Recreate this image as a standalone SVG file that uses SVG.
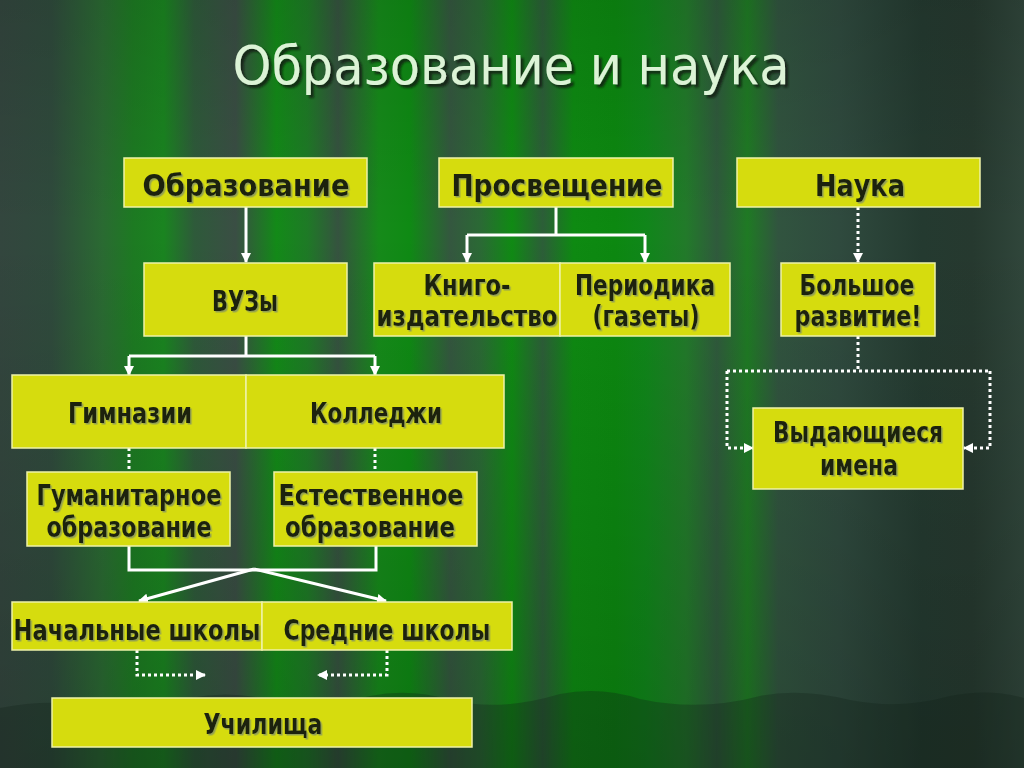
<svg xmlns="http://www.w3.org/2000/svg" width="1024" height="768" viewBox="0 0 1024 768">
<defs>
<linearGradient id="bg" x1="0" y1="0" x2="1024" y2="0" gradientUnits="userSpaceOnUse">
<stop offset="0" stop-color="#33463e"/>
<stop offset="0.05" stop-color="#2f4a3c"/>
<stop offset="0.1" stop-color="#2a6a32"/>
<stop offset="0.13" stop-color="#1d7a22"/>
<stop offset="0.16" stop-color="#1a8420"/>
<stop offset="0.19" stop-color="#2e5a3a"/>
<stop offset="0.23" stop-color="#3a4e44"/>
<stop offset="0.27" stop-color="#138a18"/>
<stop offset="0.30" stop-color="#1e7a26"/>
<stop offset="0.33" stop-color="#35533f"/>
<stop offset="0.37" stop-color="#168a1a"/>
<stop offset="0.40" stop-color="#0f8a14"/>
<stop offset="0.44" stop-color="#34573f"/>
<stop offset="0.47" stop-color="#2a6a34"/>
<stop offset="0.50" stop-color="#108a14"/>
<stop offset="0.53" stop-color="#2c5e38"/>
<stop offset="0.56" stop-color="#0e8a12"/>
<stop offset="0.60" stop-color="#0c8810"/>
<stop offset="0.63" stop-color="#10861a"/>
<stop offset="0.67" stop-color="#227a2a"/>
<stop offset="0.70" stop-color="#2f5a3c"/>
<stop offset="0.73" stop-color="#1f7a24"/>
<stop offset="0.76" stop-color="#31543f"/>
<stop offset="0.82" stop-color="#2f4a3e"/>
<stop offset="0.9" stop-color="#243a30"/>
<stop offset="0.95" stop-color="#26392f"/>
<stop offset="1" stop-color="#30463b"/>
</linearGradient>
<linearGradient id="shade" x1="0" y1="0" x2="0" y2="1">
<stop offset="0" stop-color="#000" stop-opacity="0.1"/>
<stop offset="0.3" stop-color="#000" stop-opacity="0"/>
<stop offset="1" stop-color="#000" stop-opacity="0.15"/>
</linearGradient>
<filter id="ts" x="-10%" y="-20%" width="120%" height="140%">
<feDropShadow dx="1.5" dy="1.5" stdDeviation="0.4" flood-color="#8c9a5a" flood-opacity="0.9"/>
</filter>
<filter id="tts" x="-10%" y="-20%" width="120%" height="140%">
<feDropShadow dx="3" dy="3" stdDeviation="1" flood-color="#0a1a0a" flood-opacity="0.8"/>
</filter>
<marker id="ah" markerUnits="userSpaceOnUse" markerWidth="10" markerHeight="10" refX="9" refY="5" orient="auto" viewBox="0 0 10 10">
<path d="M0,0 L10,5 L0,10 z" fill="#ffffff"/>
</marker>
<style>
.box{fill:#d6dc0e;stroke:#eef2a8;stroke-width:1.5}
.t{font-family:"DejaVu Sans Condensed","DejaVu Sans",sans-serif;font-weight:bold;fill:#1c2410;text-anchor:middle;filter:url(#ts)}
.h{font-size:31px}
.n{font-size:28px}
.ln{fill:none;stroke:#ffffff;stroke-width:3}
.dt{fill:none;stroke:#ffffff;stroke-width:3;stroke-dasharray:3 3}
</style>
</defs>
<rect x="0" y="0" width="1024" height="768" fill="url(#bg)"/>
<rect x="0" y="0" width="1024" height="768" fill="url(#shade)"/>
<path d="M0,708 Q40,700 80,704 Q140,712 190,698 Q230,690 270,700 Q320,710 370,696 Q410,688 450,700 Q500,712 560,694 Q600,686 640,699 Q700,712 760,696 Q800,688 850,700 Q900,710 950,696 Q990,688 1024,698 L1024,768 L0,768 Z" fill="#102018" fill-opacity="0.3"/>

<text x="511" y="84" font-family="'DejaVu Sans',sans-serif" font-size="54" fill="#dcf3d6" text-anchor="middle" textLength="557" lengthAdjust="spacingAndGlyphs" filter="url(#tts)">Образование и наука</text>

<g id="connectors">
<path class="ln" d="M246,207 V262" marker-end="url(#ah)"/>
<path class="ln" d="M556,207 V235 M467,235 H645"/>
<path class="ln" d="M467,235 V262" marker-end="url(#ah)"/>
<path class="ln" d="M645,235 V262" marker-end="url(#ah)"/>
<path class="dt" d="M858,207 V262" marker-end="url(#ah)"/>
<path class="ln" d="M246,336 V356 M129,356 H375"/>
<path class="ln" d="M129,356 V375" marker-end="url(#ah)"/>
<path class="ln" d="M375,356 V375" marker-end="url(#ah)"/>
<path class="dt" d="M129,448 V472"/>
<path class="dt" d="M375,448 V472"/>
<path class="ln" d="M129,546 V570 H376 V546"/>
<path class="ln" d="M254,569 L139,601" marker-end="url(#ah)"/>
<path class="ln" d="M254,569 L386,601" marker-end="url(#ah)"/>
<path class="dt" d="M137,650 V675 H205" marker-end="url(#ah)"/>
<path class="dt" d="M387,650 V675 H318" marker-end="url(#ah)"/>
<path class="dt" d="M858,336 V371 M727,371 H990"/>
<path class="dt" d="M727,371 V448 H753" marker-end="url(#ah)"/>
<path class="dt" d="M990,371 V448 H964" marker-end="url(#ah)"/>
</g>

<g id="obrazovanie"><rect class="box" x="124" y="158" width="243" height="49"/><text class="t h" x="246" y="196" textLength="207" lengthAdjust="spacingAndGlyphs">Образование</text></g>
<g id="prosveshchenie"><rect class="box" x="439" y="158" width="234" height="49"/><text class="t h" x="557" y="196" textLength="211" lengthAdjust="spacingAndGlyphs">Просвещение</text></g>
<g id="nauka"><rect class="box" x="737" y="158" width="243" height="49"/><text class="t h" x="860" y="196" textLength="90" lengthAdjust="spacingAndGlyphs">Наука</text></g>

<g id="vuzy"><rect class="box" x="144" y="263" width="203" height="73"/><text class="t n" x="245" y="311" textLength="66" lengthAdjust="spacingAndGlyphs">ВУЗы</text></g>
<g id="knigoizdatelstvo"><rect class="box" x="374" y="263" width="186" height="73"/><text class="t n" x="467" y="295" textLength="87" lengthAdjust="spacingAndGlyphs">Книго-</text><text class="t n" x="467" y="326" textLength="181" lengthAdjust="spacingAndGlyphs">издательство</text></g>
<g id="periodika"><rect class="box" x="560" y="263" width="170" height="73"/><text class="t n" x="645" y="295" textLength="140" lengthAdjust="spacingAndGlyphs">Периодика</text><text class="t n" x="646" y="326" textLength="107" lengthAdjust="spacingAndGlyphs">(газеты)</text></g>
<g id="bolshoe"><rect class="box" x="781" y="263" width="154" height="73"/><text class="t n" x="857" y="295" textLength="115" lengthAdjust="spacingAndGlyphs">Большое</text><text class="t n" x="858" y="326" textLength="127" lengthAdjust="spacingAndGlyphs">развитие!</text></g>

<g id="gimnazii"><rect class="box" x="12" y="375" width="234" height="73"/><text class="t n" x="130" y="423" textLength="124" lengthAdjust="spacingAndGlyphs">Гимназии</text></g>
<g id="kolledzhi"><rect class="box" x="246" y="375" width="258" height="73"/><text class="t n" x="376" y="423" textLength="132" lengthAdjust="spacingAndGlyphs">Колледжи</text></g>
<g id="vydayushchiesya"><rect class="box" x="753" y="408" width="210" height="81"/><text class="t n" x="858" y="442" textLength="170" lengthAdjust="spacingAndGlyphs">Выдающиеся</text><text class="t n" x="859" y="475" textLength="78" lengthAdjust="spacingAndGlyphs">имена</text></g>

<g id="gumanitarnoe"><rect class="box" x="27" y="472" width="203" height="74"/><text class="t n" x="129" y="505" textLength="185" lengthAdjust="spacingAndGlyphs">Гуманитарное</text><text class="t n" x="129" y="537" textLength="165" lengthAdjust="spacingAndGlyphs">образование</text></g>
<g id="estestvennoe"><rect class="box" x="274" y="472" width="203" height="74"/><text class="t n" x="371" y="505" textLength="185" lengthAdjust="spacingAndGlyphs">Естественное</text><text class="t n" x="370" y="537" textLength="170" lengthAdjust="spacingAndGlyphs">образование</text></g>

<g id="nachalnye"><rect class="box" x="12" y="602" width="250" height="48"/><text class="t n" x="137" y="640" textLength="247" lengthAdjust="spacingAndGlyphs">Начальные школы</text></g>
<g id="srednie"><rect class="box" x="262" y="602" width="250" height="48"/><text class="t n" x="387" y="640" textLength="207" lengthAdjust="spacingAndGlyphs">Средние школы</text></g>

<g id="uchilishcha"><rect class="box" x="52" y="698" width="420" height="49"/><text class="t n" x="263" y="734" textLength="119" lengthAdjust="spacingAndGlyphs">Училища</text></g>
</svg>
